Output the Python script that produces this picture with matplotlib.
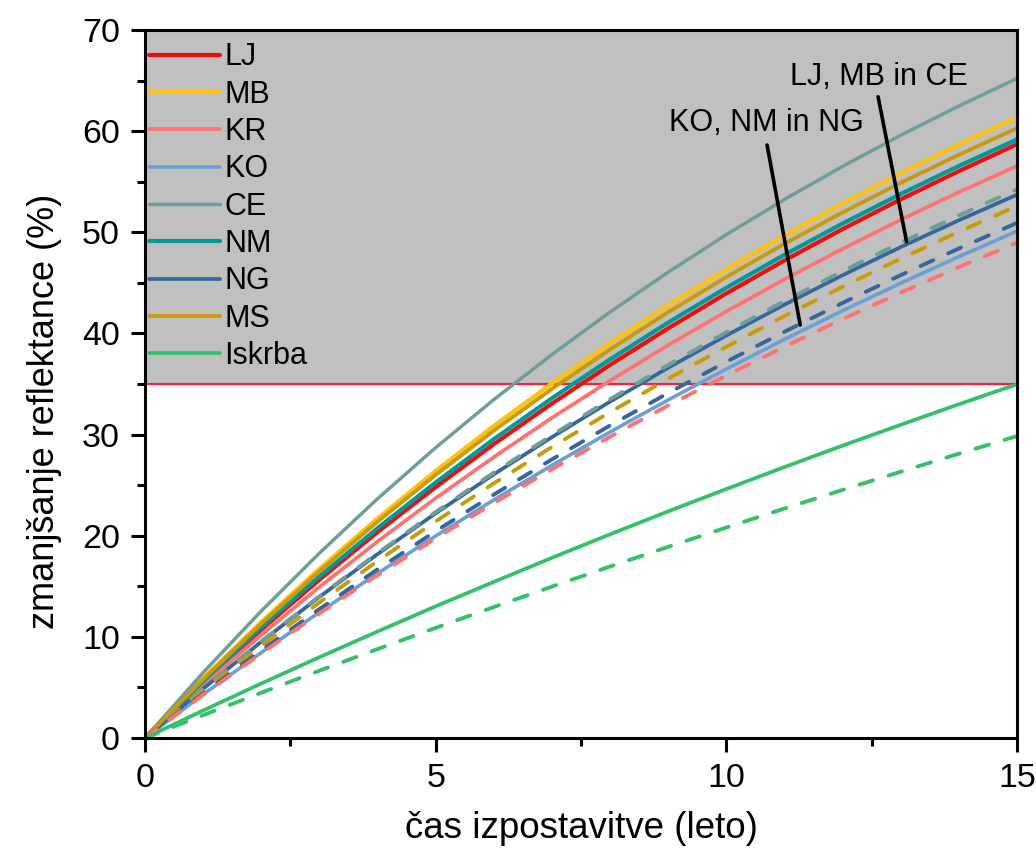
import matplotlib
matplotlib.use("Agg")
import matplotlib.pyplot as plt

plt.rcParams['font.family'] = ['Liberation Sans', 'DejaVu Sans']

# exposure time (years)
years = [0, 1, 2, 3, 4, 5, 6, 7, 8, 9, 10, 11, 12, 13, 14, 15]

# solid series (reflectance decrease, %)
LJ = [0, 5.50, 10.71, 15.65, 20.36, 24.81, 29.05, 33.07, 36.89, 40.51, 43.96, 47.22, 50.32, 53.26, 56.05, 58.71]
MB = [0, 5.90, 11.47, 16.73, 21.71, 26.41, 30.86, 35.06, 39.04, 42.79, 46.34, 49.69, 52.86, 55.86, 58.69, 61.37]
KR = [0, 5.23, 10.20, 14.93, 19.43, 23.71, 27.78, 31.66, 35.34, 38.85, 42.18, 45.35, 48.37, 51.24, 53.97, 56.56]
KO = [0, 4.31, 8.45, 12.44, 16.28, 19.98, 23.54, 26.96, 30.26, 33.43, 36.48, 39.42, 42.25, 44.97, 47.59, 50.12]
CE = [0, 6.47, 12.56, 18.28, 23.66, 28.71, 33.46, 37.92, 42.12, 46.06, 49.77, 53.25, 56.52, 59.60, 62.49, 65.21]
NM = [0, 5.62, 10.94, 15.98, 20.75, 25.27, 29.55, 33.60, 37.44, 41.08, 44.52, 47.78, 50.87, 53.79, 56.56, 59.19]
NG = [0, 4.87, 9.52, 13.95, 18.18, 22.22, 26.07, 29.75, 33.26, 36.61, 39.80, 42.85, 45.76, 48.54, 51.19, 53.72]
MS = [0, 5.81, 11.30, 16.49, 21.39, 26.02, 30.39, 34.52, 38.42, 42.10, 45.58, 48.87, 51.97, 54.90, 57.67, 60.29]
Iskrba = [0, 2.72, 5.39, 7.99, 10.53, 13.02, 15.44, 17.82, 20.14, 22.41, 24.62, 26.79, 28.91, 30.97, 33.00, 34.97]

# dashed series
CE_d = [0, 4.89, 9.56, 14.02, 18.28, 22.35, 26.24, 29.95, 33.50, 36.89, 40.12, 43.21, 46.16, 48.98, 51.67, 54.25]
MS_d = [0, 4.66, 9.12, 13.40, 17.50, 21.42, 25.18, 28.78, 32.22, 35.52, 38.69, 41.72, 44.62, 47.40, 50.06, 52.61]
NG_d = [0, 4.42, 8.67, 12.75, 16.68, 20.45, 24.07, 27.55, 30.90, 34.11, 37.20, 40.17, 43.02, 45.77, 48.40, 50.93]
KR_d = [0, 4.28, 8.38, 12.32, 16.10, 19.74, 23.23, 26.57, 29.79, 32.88, 35.84, 38.69, 41.42, 44.04, 46.56, 48.98]
Iskrba_d = [0, 2.26, 4.48, 6.66, 8.79, 10.89, 12.95, 14.97, 16.96, 18.90, 20.81, 22.69, 24.53, 26.33, 28.11, 29.85]

threshold = 35

labels = ['LJ', 'MB', 'KR', 'KO', 'CE', 'NM', 'NG', 'MS', 'Iskrba']
solid = [LJ, MB, KR, KO, CE, NM, NG, MS, Iskrba]
colors = {'LJ': '#f20d0d', 'MB': '#ffc20e', 'KR': '#ff7272', 'KO': '#6c9fd6',
          'CE': '#6e9e9c', 'NM': '#00999a', 'NG': '#35679d', 'MS': '#c99a0a',
          'Iskrba': '#35c06a'}
widths = {'LJ': 3.0, 'MB': 3.0, 'KR': 2.7, 'KO': 2.6, 'CE': 2.5, 'NM': 3.0,
          'NG': 2.7, 'MS': 2.8, 'Iskrba': 2.7}
dashed_labels = ['CE', 'MS', 'NG', 'KR', 'Iskrba']
dashed = [CE_d, MS_d, NG_d, KR_d, Iskrba_d]

fig = plt.figure(figsize=(10.36, 8.48), dpi=100)
ax = fig.add_axes([0.14, 0.1297, 0.8417, 0.8349])

ax.axhspan(threshold, 70, color='#c0c0c0', zorder=0, lw=0)
ax.axhline(threshold, color='#ff1a3c', lw=1.5, zorder=1)

for lab, ys in zip(labels, solid):
    ax.plot(years, ys, color=colors[lab], lw=widths[lab], label=lab,
            solid_capstyle='round', zorder=3)

for lab, ys in zip(dashed_labels, dashed):
    ax.plot(years, ys, color=colors[lab], lw=2.8, dashes=(3.6, 4.2),
            dash_capstyle='round', zorder=4)

# annotations
ax.text(12.62, 65.4, 'LJ, MB in CE', fontsize=22, ha='center', va='center', zorder=6)
ax.text(10.68, 60.8, 'KO, NM in NG', fontsize=22, ha='center', va='center', zorder=6)
ax.annotate('', xy=(13.10, 49.07), xytext=(12.61, 63.4),
            arrowprops=dict(arrowstyle='-', lw=2.6, color='black', shrinkA=0, shrinkB=0), zorder=6)
ax.annotate('', xy=(11.27, 40.83), xytext=(10.70, 58.63),
            arrowprops=dict(arrowstyle='-', lw=2.6, color='black', shrinkA=0, shrinkB=0), zorder=6)

ax.set_xlim(0, 15)
ax.set_ylim(0, 70)
ax.set_xticks([0, 5, 10, 15])
ax.set_xticks([2.5, 7.5, 12.5], minor=True)
ax.set_yticks(range(0, 71, 10))
ax.set_yticks(range(5, 70, 10), minor=True)
ax.tick_params(axis='both', which='major', direction='out', length=10, width=2.2,
               labelsize=24.5, pad=8)
ax.tick_params(axis='both', which='minor', direction='out', length=6, width=2.2)
for sp in ax.spines.values():
    sp.set_linewidth(2.2)
    sp.set_zorder(7)

ax.set_xlabel('čas izpostavitve (leto)', fontsize=26.5, labelpad=12)
ax.set_ylabel('zmanjšanje reflektance (%)', fontsize=26)
ax.yaxis.set_label_coords(-0.095, 0.462)

ax.legend(loc='upper left', bbox_to_anchor=(-0.009, 1.0), frameon=False, fontsize=22,
          handlelength=2.3, handletextpad=0.15, labelspacing=0.24,
          borderaxespad=0.1, borderpad=0.3)

fig.savefig('out.png', dpi=100)
